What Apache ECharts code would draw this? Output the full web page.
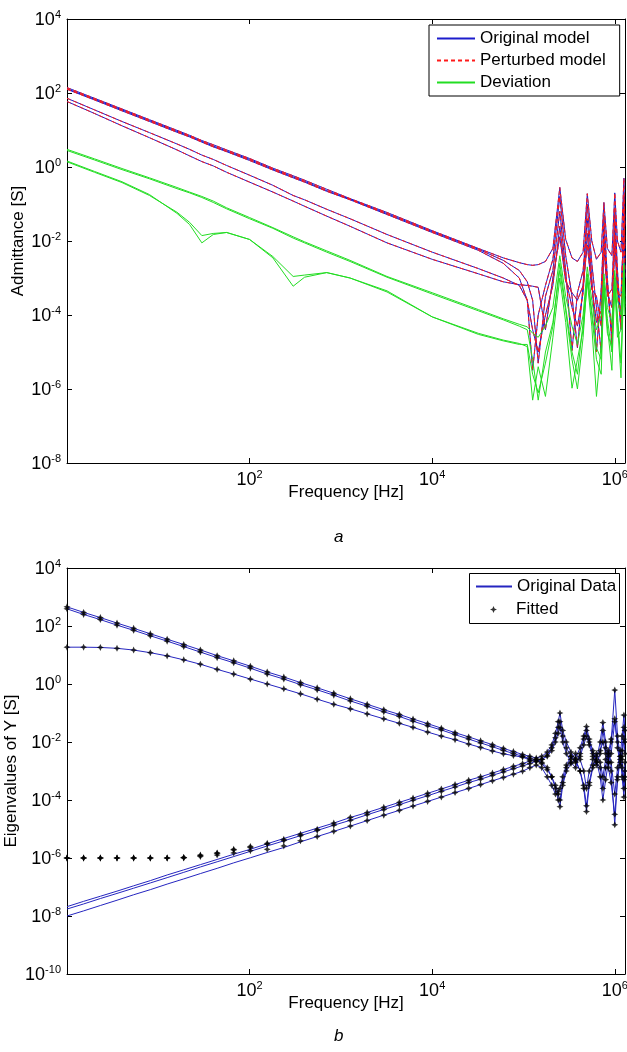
<!DOCTYPE html>
<html><head><meta charset="utf-8">
<script src="https://cdn.jsdelivr.net/npm/echarts@6/dist/echarts.min.js"></script>
<style>html,body{margin:0;padding:0;background:#fff}#c{width:627px;height:1052px}</style>
</head><body><div id="c"></div>
<script>
// ---------------- Panel a: admittance elements (Hz, S) ----------------
const freqA = [1, 2, 4, 8, 16, 22, 30, 40, 56, 100, 180, 300, 400, 700, 1260, 3200, 1e4, 3.2e4, 6e4, 9e4,
  1.1e5, 1.26e5, 1.45e5, 1.74e5, 2.1e5, 2.5e5, 2.9e5, 3.4e5, 3.9e5, 4.5e5, 5.0e5, 5.6e5, 6.3e5, 7.1e5, 7.6e5,
  8.3e5, 9.3e5, 1.0e6, 1.07e6, 1.17e6, 1.26e6, 1.29e6];
const origA1 = [140, 72, 37, 19, 9.8, 7.2, 5.2, 4.0, 2.9, 1.7, 0.93, 0.58, 0.44, 0.25, 0.14, 0.059, 0.019, 6.3e-3, 3.5e-3, 2.6e-3,
  2.3e-3, 2.2e-3, 2.3e-3, 2.8e-3, 6.3e-3, 0.28, 1.1e-2, 3.5e-3, 2.8e-3, 5.0e-3, 0.19, 1.0e-2, 3.2e-3, 5.0e-3, 0.11,
  6.3e-3, 4.0e-3, 0.2, 1.0e-2, 5.0e-3, 0.5, 2.5e-2];
const origA2 = [126, 65, 33, 17, 8.7, 6.5, 4.7, 3.5, 2.6, 1.5, 0.83, 0.51, 0.39, 0.22, 0.13, 0.052, 0.017, 5.6e-3, 2.5e-3, 1.0e-3,
  2.5e-4, 3.2e-6, 1.0e-4, 6.3e-4, 3.2e-3, 0.16, 4.0e-3, 3.2e-4, 1.3e-5, 6.3e-4, 0.1, 2.5e-3, 1.6e-4, 1.0e-5, 0.05,
  1.0e-3, 1.6e-5, 0.079, 1.6e-3, 5.0e-5, 0.16, 6.3e-3];
const origA3 = [130, 68, 35, 18, 9.2, 6.8, 4.9, 3.7, 2.7, 1.6, 0.87, 0.54, 0.41, 0.23, 0.135, 0.055, 0.018, 6.0e-3, 3.0e-3, 1.6e-3,
  7.9e-4, 2.5e-4, 5.0e-6, 3.2e-4, 1.6e-3, 0.063, 1.6e-3, 1.1e-5, 4.0e-4, 1.6e-3, 0.04, 1.0e-3, 1.0e-5, 5.0e-4, 0.025,
  3.2e-4, 5.0e-4, 0.032, 6.3e-4, 1.0e-4, 0.079, 3.2e-3];
const origC = [72, 35, 17, 8.5, 4.2, 3.0, 2.1, 1.6, 1.1, 0.6, 0.32, 0.17, 0.13, 0.072, 0.04, 0.015, 5.0e-3, 1.8e-3, 1.0e-3, 6.3e-4,
  2.5e-4, 4.0e-5, 1.0e-5, 1.0e-4, 6.3e-4, 0.025, 1.0e-3, 1.6e-4, 5.0e-5, 4.0e-4, 0.016, 6.3e-4, 6.3e-5, 1.3e-4, 0.01,
  6.3e-4, 3.2e-5, 0.013, 4.0e-4, 3.2e-4, 0.032, 1.6e-3];
const origD = [59, 28, 13, 6.2, 2.9, 2.0, 1.4, 1.07, 0.72, 0.39, 0.21, 0.12, 0.087, 0.047, 0.025, 8.9e-3, 3.2e-3, 1.3e-3, 7.9e-4, 6.6e-4,
  6.3e-4, 6.0e-4, 5.6e-4, 4.0e-5, 1.0e-3, 0.013, 7.9e-4, 4.0e-4, 2.5e-4, 6.3e-4, 7.9e-3, 5.0e-4, 3.2e-4, 5.0e-5, 6.3e-3,
  4.0e-4, 1.6e-4, 0.01, 5.0e-4, 4.0e-5, 0.016, 1.0e-3];
// perturbed model practically coincides with the original one
const pertA1 = origA1, pertA2 = origA2, pertA3 = origA3, pertC = origC, pertD = origD;
const devG1a = [3.0, 1.66, 0.91, 0.51, 0.28, 0.21, 0.16, 0.12, 0.079, 0.043, 0.023, 0.013, 9.5e-3, 5.4e-3, 3.0e-3, 1.1e-3, 4.0e-4, 1.4e-4, 7.9e-5, 5.6e-5,
  4.8e-5, 3.2e-5, 2.5e-5, 5.0e-5, 1.6e-4, 4.0e-3, 3.2e-4, 5.0e-5, 1.6e-5, 1.0e-4, 2.0e-3, 2.5e-4, 4.0e-5, 1.0e-4, 1.3e-3,
  1.6e-4, 6.3e-5, 1.6e-3, 2.5e-4, 1.0e-4, 2.5e-3, 3.2e-4];
const devG1b = [2.8, 1.55, 0.85, 0.48, 0.26, 0.2, 0.15, 0.11, 0.074, 0.04, 0.022, 0.012, 8.9e-3, 5.0e-3, 2.8e-3, 1.05e-3, 3.7e-4, 1.3e-4, 7.4e-5, 5.0e-5,
  4.0e-5, 6.3e-6, 5.0e-7, 1.0e-5, 6.3e-5, 1.6e-3, 1.3e-4, 6.3e-6, 1.0e-6, 2.5e-5, 1.0e-3, 1.0e-4, 6.3e-6, 2.5e-6, 6.3e-4,
  5.0e-5, 3.2e-6, 7.9e-4, 6.3e-5, 2.0e-6, 1.3e-3, 1.6e-4];
const devG2a = [1.45, 0.76, 0.4, 0.18, 0.056, 0.028, 8.9e-3, 0.015, 0.017, 0.011, 3.5e-3, 6.0e-4, 1.05e-3, 1.4e-3, 1.0e-3, 4.5e-4, 8.9e-5, 3.2e-5, 2.1e-5, 1.7e-5,
  1.4e-5, 5.0e-7, 4.0e-6, 6.3e-7, 2.5e-5, 1.0e-3, 6.3e-5, 1.05e-6, 6.3e-6, 4.0e-5, 7.9e-4, 5.0e-5, 6.3e-7, 1.6e-5, 5.0e-4,
  3.2e-5, 1.3e-5, 6.3e-4, 2.5e-5, 4.0e-5, 1.0e-3, 1.0e-4];
const devG2b = [1.38, 0.72, 0.38, 0.17, 0.06, 0.032, 0.014, 0.016, 0.017, 0.011, 3.8e-3, 1.1e-3, 1.2e-3, 1.4e-3, 1.0e-3, 4.2e-4, 8.9e-5, 3.0e-5, 2.0e-5, 1.6e-5,
  1.6e-5, 2.5e-6, 7.9e-7, 5.0e-6, 5.0e-5, 2.5e-3, 1.6e-4, 1.0e-5, 2.5e-6, 6.3e-5, 1.3e-3, 1.3e-4, 1.3e-5, 6.3e-6, 7.9e-4,
  7.9e-5, 1.0e-5, 1.0e-3, 1.0e-4, 5.0e-6, 1.6e-3, 2.0e-4];

// ---------------- Panel b: eigenvalues of Y (Hz, S) ----------------
const freqB = [1, 1.52, 2.32, 3.53, 5.37, 8.18, 12.5, 19, 28.9, 44.1, 67, 102, 156, 237, 361, 550, 836, 1270, 1940, 2950,
  4370, 6170, 8910, 12600, 17800, 25100, 33900, 45700, 60300, 77600, 97700, 117500, 138000, 158500, 182000, 204000, 224000, 240000, 251000, 269000,
  295000, 331000, 372000, 417000, 457000, 490000, 525000, 575000, 631000, 692000, 741000, 794000, 851000, 912000, 1000000, 1072000, 1148000, 1202000, 1259000, 1291000];
const eigB1 = [457, 295, 195, 126, 83, 54, 35, 23, 15, 9.5, 6.3, 4.1, 2.6, 1.74, 1.12, 0.74, 0.48, 0.31, 0.2, 0.13,
  0.089, 0.062, 0.043, 0.03, 0.021, 0.015, 0.011, 8.1e-3, 6.0e-3, 4.7e-3, 3.7e-3, 3.2e-3, 2.8e-3, 3.2e-3, 4.5e-3, 7.9e-3, 0.02, 0.05, 0.1, 0.025,
  0.01, 4.5e-3, 2.5e-3, 1.0e-3, 2.5e-4, 4.0e-5, 3.2e-4, 1.3e-3, 2.5e-3, 0.01, 0.047, 0.01, 3.2e-3, 1.0e-3, 1.4e-5, 6.3e-4, 3.2e-3, 0.016, 0.085, 0.025];
const eigB2 = [390, 250, 166, 107, 71, 46, 30, 19.5, 12.6, 8.1, 5.4, 3.5, 2.2, 1.48, 0.95, 0.63, 0.41, 0.26, 0.17, 0.11,
  0.076, 0.052, 0.036, 0.026, 0.018, 0.0126, 9.3e-3, 6.9e-3, 5.1e-3, 4.0e-3, 3.2e-3, 2.7e-3, 2.4e-3, 2.0e-3, 1.3e-3, 6.3e-4, 2.5e-4, 1.0e-4, 5.9e-5, 3.2e-4,
  1.0e-3, 1.8e-3, 2.8e-3, 6.3e-3, 0.016, 0.034, 0.0126, 5.0e-3, 2.2e-3, 6.3e-4, 1.0e-4, 5.0e-4, 2.0e-3, 0.01, 0.62, 0.016, 3.2e-3, 6.3e-4, 1.26e-4, 6.3e-4];
const eigB3 = [18.6, 18.6, 18.2, 17, 14.8, 12, 9.3, 6.8, 4.8, 3.2, 2.2, 1.48, 1.0, 0.68, 0.46, 0.30, 0.2, 0.14, 0.093, 0.063,
  0.044, 0.032, 0.022, 0.016, 0.012, 8.5e-3, 6.5e-3, 4.9e-3, 3.9e-3, 3.4e-3, 3.0e-3, 2.4e-3, 2.1e-3, 2.5e-3, 3.5e-3, 6.3e-3, 0.014, 0.032, 0.05, 0.016,
  6.3e-3, 3.2e-3, 2.0e-3, 3.2e-3, 7.9e-3, 0.016, 7.9e-3, 3.2e-3, 1.6e-3, 4.0e-3, 0.025, 6.3e-3, 2.0e-3, 4.0e-3, 0.05, 0.01, 2.0e-3, 5.0e-3, 0.032, 0.01];
const eigE1 = [2.1e-8, 3.2e-8, 4.8e-8, 7.2e-8, 1.1e-7, 1.66e-7, 2.6e-7, 3.9e-7, 5.9e-7, 8.9e-7, 1.35e-6, 2.0e-6, 3.1e-6, 4.7e-6, 7.1e-6, 1.07e-5, 1.6e-5, 2.5e-5, 3.7e-5, 5.6e-5,
  8.3e-5, 1.17e-4, 1.7e-4, 2.4e-4, 3.4e-4, 4.8e-4, 6.3e-4, 8.5e-4, 1.12e-3, 1.45e-3, 1.8e-3, 2.2e-3, 2.5e-3, 1.8e-3, 1.1e-3, 6.3e-4, 3.2e-4, 1.6e-4, 1.0e-4, 4.0e-4,
  1.3e-3, 2.5e-3, 4.0e-3, 2.5e-3, 1.0e-3, 2.5e-4, 1.0e-3, 2.5e-3, 4.0e-3, 2.0e-3, 6.3e-4, 2.5e-3, 5.0e-3, 2.0e-3, 1.6e-4, 1.3e-3, 5.0e-3, 2.5e-3, 5.0e-4, 2.0e-3];
const eigE2 = [1.74e-8, 2.6e-8, 4.0e-8, 6.0e-8, 9.1e-8, 1.38e-7, 2.1e-7, 3.2e-7, 4.9e-7, 7.4e-7, 1.12e-6, 1.7e-6, 2.6e-6, 3.9e-6, 5.9e-6, 8.9e-6, 1.35e-5, 2.0e-5, 3.1e-5, 4.7e-5,
  6.9e-5, 9.8e-5, 1.4e-4, 2.0e-4, 2.8e-4, 4.0e-4, 5.2e-4, 7.1e-4, 9.3e-4, 1.2e-3, 1.5e-3, 1.8e-3, 2.2e-3, 2.5e-3, 3.2e-3, 5.0e-3, 0.01, 0.02, 0.032, 0.01,
  4.0e-3, 2.0e-3, 1.3e-3, 4.0e-3, 0.0126, 0.025, 0.01, 4.0e-3, 2.0e-3, 1.3e-3, 2.5e-4, 1.3e-3, 4.0e-3, 0.0126, 0.063, 6.3e-3, 1.6e-3, 3.2e-3, 0.0126, 4.0e-3];
const eigE3 = [1.0e-8, 1.5e-8, 2.3e-8, 3.5e-8, 5.4e-8, 8.1e-8, 1.26e-7, 1.9e-7, 2.9e-7, 4.4e-7, 6.8e-7, 1.02e-6, 1.55e-6, 2.3e-6, 3.6e-6, 5.5e-6, 8.3e-6, 1.26e-5, 1.95e-5, 3.0e-5,
  4.4e-5, 6.2e-5, 8.9e-5, 1.26e-4, 1.8e-4, 2.5e-4, 3.4e-4, 4.6e-4, 6.0e-4, 7.8e-4, 9.8e-4, 1.3e-3, 1.6e-3, 1.3e-3, 6.3e-4, 3.2e-4, 1.6e-4, 2.0e-4, 2.5e-4, 6.3e-4,
  1.6e-3, 3.2e-3, 2.2e-3, 1.0e-3, 3.2e-4, 6.3e-5, 4.0e-4, 1.6e-3, 3.2e-3, 5.0e-3, 0.01, 4.0e-3, 1.3e-3, 4.0e-4, 3.2e-5, 5.0e-4, 2.5e-3, 1.3e-3, 2.5e-4, 1.0e-3];
// fitted values differ from the data only at low frequency on the rising branches
const fitE1Low = [1.0e-6, 1.0e-6, 1.0e-6, 1.0e-6, 1.0e-6, 1.0e-6, 1.0e-6, 1.05e-6, 1.26e-6, 1.5e-6, 2.0e-6, 2.5e-6, 3.2e-6, 4.4e-6, 6.6e-6, 9.8e-6];
const fitE2Low = [1.0e-6, 1.0e-6, 1.0e-6, 1.0e-6, 1.0e-6, 1.0e-6, 1.0e-6, 1.04e-6, 1.22e-6, 1.45e-6, 1.9e-6, 2.3e-6, 3.0e-6, 4.0e-6, 5.9e-6, 8.9e-6];
const fitE3Low = [1.0e-6, 1.0e-6, 1.0e-6, 1.0e-6, 1.0e-6, 1.0e-6, 1.0e-6, 1.0e-6, 1.12e-6, 1.26e-6, 1.5e-6, 1.78e-6, 2.0e-6, 2.6e-6, 3.9e-6, 5.5e-6];
const fitE1 = fitE1Low.concat(eigE1.slice(fitE1Low.length));
const fitE2 = fitE2Low.concat(eigE2.slice(fitE2Low.length));
const fitE3 = fitE3Low.concat(eigE3.slice(fitE3Low.length));

// ---------------- chart ----------------
const FONT = 'Liberation Sans, Arial, sans-serif';
const BLUE = '#1c1ccc', RED = '#ff1a1a', GREEN = '#22dd22', BLUE_B = '#2525c0';
const STAR = 'path://M0,-5 L1.6,-1.6 L5,0 L1.6,1.6 L0,5 L-1.6,1.6 L-5,0 L-1.6,-1.6 Z';

function pts(f, v) { return f.map((x, i) => [Math.log10(x), Math.log10(v[i])]); }
function lineS(name, f, v, ai, color, type, z) {
  return { type: 'line', name, xAxisIndex: ai, yAxisIndex: ai, data: pts(f, v), symbol: 'none', showSymbol: false,
    lineStyle: { color, width: 1, type: type || 'solid' }, itemStyle: { color }, z: z || 2, silent: true };
}
function fitS(v) {
  return { type: 'scatter', name: 'Fitted', xAxisIndex: 2, yAxisIndex: 2, data: pts(freqB, v), symbol: STAR,
    symbolSize: 7, itemStyle: { color: '#000' }, z: 5, silent: true };
}
const rich = {
  b: { fontFamily: FONT, fontSize: 18, color: '#000', verticalAlign: 'bottom', lineHeight: 20 },
  s: { fontFamily: FONT, fontSize: 11, color: '#000', verticalAlign: 'top', lineHeight: 12 }
};
function isEven(v) { return Math.abs(v - Math.round(v)) < 1e-6 && Math.round(v) % 2 === 0; }
function fmtX(v) { return (isEven(v) && Math.round(v) !== 0) ? '{b|10}{s|' + Math.round(v) + '}' : ''; }
function fmtY(v) { return isEven(v) ? '{b|10}{s|' + Math.round(v) + '}' : ''; }
const axLine = { show: true, onZero: false, lineStyle: { color: '#000', width: 1 } };
const tick = { show: true, inside: true, length: 5, lineStyle: { color: '#000' } };
const nameStyle = { fontFamily: FONT, fontSize: 17, color: '#000' };

function xAx(g, pos, name) {
  return { type: 'value', gridIndex: g, position: pos, min: 0, max: 6.112, interval: 2,
    axisLine: axLine, axisTick: tick, splitLine: { show: false },
    axisLabel: pos === 'bottom' ? { show: true, formatter: fmtX, rich, margin: 6, hideOverlap: false } : { show: false },
    name: name || '', nameLocation: 'middle', nameGap: 21, nameMoveOverlap: false, nameTextStyle: nameStyle };
}
function yAx(g, pos, min, name, gap) {
  return { type: 'value', gridIndex: g, position: pos, min, max: 4, interval: 2,
    axisLine: axLine, axisTick: tick, splitLine: { show: false },
    axisLabel: pos === 'left' ? { show: true, formatter: fmtY, rich, margin: 6, hideOverlap: false } : { show: false },
    name: name || '', nameLocation: 'middle', nameGap: gap || 0, nameRotate: 90, nameMoveOverlap: false, nameTextStyle: nameStyle };
}

const series = [];
[origA1, origA2, origA3, origC, origD].forEach(v => series.push(lineS('Original model', freqA, v, 0, BLUE, 'solid', 2)));
[pertA1, pertA2, pertA3, pertC, pertD].forEach(v => series.push(lineS('Perturbed model', freqA, v, 0, RED, [4, 3], 3)));
[devG1a, devG1b, devG2a, devG2b].forEach(v => series.push(lineS('Deviation', freqA, v, 0, GREEN, 'solid', 4)));
[eigB1, eigB2, eigB3, eigE1, eigE2, eigE3].forEach(v => series.push(lineS('Original Data', freqB, v, 2, BLUE_B, 'solid', 2)));
[eigB1, eigB2, eigB3, fitE1, fitE2, fitE3].forEach(v => series.push(fitS(v)));

const legText = { fontFamily: FONT, fontSize: 17, color: '#000' };
const option = {
  animation: false,
  backgroundColor: '#fff',
  grid: [
    { left: 67, top: 19, width: 558, height: 444, containLabel: false, outerBoundsMode: 'none' },
    { left: 67, top: 568, width: 558, height: 406, containLabel: false, outerBoundsMode: 'none' }
  ],
  xAxis: [xAx(0, 'bottom', 'Frequency [Hz]'), xAx(0, 'top'), xAx(1, 'bottom', 'Frequency [Hz]'), xAx(1, 'top')],
  yAxis: [yAx(0, 'left', -8, 'Admittance [S]', 40), yAx(0, 'right', -8), yAx(1, 'left', -10, 'Eigenvalues of Y [S]', 47), yAx(1, 'right', -10)],
  legend: [
    { data: ['Original model', 'Perturbed model', 'Deviation'], orient: 'vertical', left: 429, top: 25,
      itemWidth: 38, itemHeight: 14, itemGap: 5, padding: [5, 14, 5, 7], borderColor: '#000', borderWidth: 1,
      backgroundColor: '#fff', textStyle: legText, selectedMode: false, itemStyle: { opacity: 0 } },
    { data: ['Original Data'], orient: 'vertical', left: 475, top: 578, itemWidth: 36, itemHeight: 14,
      padding: 0, textStyle: legText, selectedMode: false, itemStyle: { opacity: 0 } },
    { data: [{ name: 'Fitted', icon: STAR }], orient: 'vertical', left: 490, top: 601, itemWidth: 7, itemHeight: 7,
      padding: 0, textStyle: Object.assign({ padding: [0, 0, 0, 14] }, legText), selectedMode: false, itemStyle: { color: '#000' } }
  ],
  title: [
    { text: 'a', left: 329, top: 524, textStyle: { fontFamily: FONT, fontSize: 17, fontStyle: 'italic', fontWeight: 'normal', color: '#000' } },
    { text: 'b', left: 329, top: 1023, textStyle: { fontFamily: FONT, fontSize: 17, fontStyle: 'italic', fontWeight: 'normal', color: '#000' } }
  ],
  graphic: [
    { type: 'rect', shape: { x: 469.5, y: 573.5, width: 150, height: 50 }, style: { fill: '#fff', stroke: '#000', lineWidth: 1 }, z: 1 }
  ],
  series
};
const chart = echarts.init(document.getElementById('c'), null, { renderer: 'canvas' });
chart.setOption(option);
</script></body></html>
